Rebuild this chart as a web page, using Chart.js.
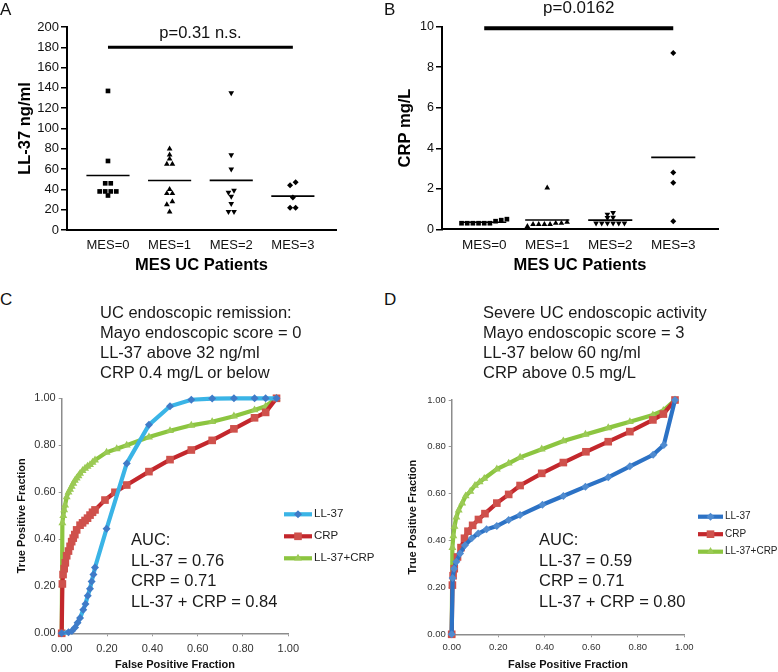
<!DOCTYPE html>
<html>
<head>
<meta charset="utf-8">
<script src="https://cdn.jsdelivr.net/npm/chart.js@4.4.0/dist/chart.umd.min.js"></script>
<style>
  body { margin: 0; background: #fff; width: 778px; height: 672px; position: relative; overflow: hidden;
         font-family: "Liberation Sans", Arial, sans-serif; }
  canvas { position: absolute; }
  .txt { position: absolute; color: #1a1a1a; font-size: 16.5px; line-height: 20px; white-space: nowrap; }
  .auc { line-height: 20.5px; }
  .letter { position: absolute; font-size: 17px; line-height: 17px; color: #111; }
</style>
</head>
<body>
<canvas id="chartA" width="390" height="280" style="left:0;top:0"></canvas>
<canvas id="chartB" width="388" height="280" style="left:390px;top:0"></canvas>
<canvas id="chartC" width="390" height="292" style="left:0;top:380px"></canvas>
<canvas id="chartD" width="388" height="292" style="left:390px;top:380px"></canvas>

<div class="letter" style="left:0;top:1px">A</div>
<div class="letter" style="left:384px;top:1px">B</div>
<div class="letter" style="left:0;top:291px">C</div>
<div class="letter" style="left:384px;top:291px">D</div>

<div class="txt" id="headC" style="left:100px;top:302px"></div>
<div class="txt" id="headD" style="left:483px;top:302px"></div>
<div class="txt auc" id="aucC" style="left:131px;top:529px"></div>
<div class="txt auc" id="aucD" style="left:539px;top:529px"></div>

<script>
'use strict';

/* DATA: top panels (dot plots) */
const catLabels = ['MES=0', 'MES=1', 'MES=2', 'MES=3'];

const ll37Mes0 = [137, 68, 46, 46, 38, 38, 38, 38, 34];
const ll37Mes1 = [80, 74, 70, 65, 65, 40, 36, 36, 28, 25, 18];
const ll37Mes2 = [135, 74, 60, 39, 37, 33, 26, 18, 18];
const ll37Mes3 = [47, 44, 32, 22, 22];

const crpMes0 = [0.4, 0.3, 0.3, 0.45, 0.5, 0.3, 0.3, 0.3, 0.3];
const crpMes1 = [0.25, 0.25, 0.3, 0.35, 0.15, 0.3, 0.25, 0.25, 2.05];
const crpMes2 = [0.59, 0.3, 0.3, 0.82, 0.74, 0.3, 0.3, 0.3, 0.3, 0.57];
const crpMes3 = [8.7, 2.8, 2.3, 0.4];

const sigA = { from: 0, to: 3, y: 180, label: 'p=0.31 n.s.' };
const sigB = { from: 0, to: 3, y: 9.92, label: 'p=0.0162' };

/* DATA: bottom panels (ROC curves), [FPF, TPF] */
const cLL37 = [[0,0],[0.03,0.005],[0.045,0.01],[0.059,0.025],[0.07,0.045],[0.081,0.065],[0.095,0.1],[0.105,0.125],[0.115,0.16],[0.125,0.19],[0.132,0.22],[0.14,0.25],[0.147,0.28],[0.198,0.445],[0.287,0.723],[0.385,0.887],[0.478,0.966],[0.572,0.994],[0.664,0.999],[0.76,1],[0.851,1],[0.9,1],[0.948,1]];
const cCRP = [[0,0],[0.003,0.21],[0.006,0.25],[0.011,0.275],[0.016,0.3],[0.022,0.33],[0.03,0.35],[0.037,0.37],[0.044,0.39],[0.051,0.405],[0.058,0.42],[0.066,0.44],[0.081,0.46],[0.092,0.47],[0.103,0.48],[0.114,0.49],[0.125,0.503],[0.136,0.515],[0.147,0.525],[0.191,0.567],[0.235,0.6],[0.287,0.631],[0.385,0.688],[0.478,0.739],[0.572,0.78],[0.664,0.821],[0.76,0.87],[0.851,0.917],[0.9,0.94],[0.948,1]];
const cBoth = [[0,0],[0.003,0.47],[0.007,0.5],[0.011,0.525],[0.015,0.545],[0.022,0.58],[0.03,0.6],[0.037,0.612],[0.044,0.625],[0.051,0.638],[0.058,0.65],[0.066,0.66],[0.074,0.67],[0.081,0.68],[0.092,0.692],[0.103,0.702],[0.114,0.71],[0.125,0.717],[0.136,0.727],[0.147,0.737],[0.198,0.77],[0.243,0.785],[0.287,0.8],[0.385,0.835],[0.478,0.862],[0.572,0.885],[0.664,0.9],[0.76,0.924],[0.851,0.95],[0.9,0.966],[0.948,1]];

const dLL37 = [[0,0],[0.004,0.24],[0.01,0.28],[0.02,0.31],[0.036,0.345],[0.057,0.38],[0.086,0.41],[0.114,0.43],[0.15,0.448],[0.194,0.462],[0.245,0.488],[0.294,0.509],[0.39,0.553],[0.48,0.59],[0.575,0.63],[0.673,0.67],[0.766,0.717],[0.866,0.766],[0.912,0.808],[0.96,1]];
const dCRP = [[0,0],[0.003,0.21],[0.006,0.25],[0.011,0.28],[0.025,0.33],[0.04,0.37],[0.055,0.41],[0.07,0.44],[0.09,0.465],[0.115,0.49],[0.143,0.515],[0.194,0.56],[0.245,0.597],[0.294,0.635],[0.387,0.687],[0.48,0.733],[0.577,0.779],[0.673,0.822],[0.766,0.865],[0.865,0.915],[0.91,0.94],[0.96,1]];
const dBoth = [[0,0],[0.003,0.37],[0.007,0.42],[0.012,0.46],[0.02,0.5],[0.03,0.53],[0.045,0.56],[0.06,0.59],[0.08,0.61],[0.1,0.635],[0.12,0.65],[0.14,0.665],[0.194,0.705],[0.245,0.73],[0.294,0.755],[0.387,0.79],[0.48,0.825],[0.575,0.853],[0.673,0.881],[0.766,0.907],[0.865,0.936],[0.91,0.955],[0.96,1]];

const rocNames = ['LL-37', 'CRP', 'LL-37+CRP'];
const aucC = [0.76, 0.71, 0.84];
const aucD = [0.59, 0.71, 0.80];

const headCLines = ['UC endoscopic remission:', 'Mayo endoscopic score = 0', 'LL-37 above 32 ng/ml', 'CRP 0.4 mg/L or below'];
const headDLines = ['Severe UC endoscopic activity', 'Mayo endoscopic score = 3', 'LL-37 below 60 ng/ml', 'CRP above 0.5 mg/L'];

/* HELPERS */
Chart.defaults.font.family = '"Liberation Sans", Arial, sans-serif';
Chart.defaults.animation = false;

function mean(arr) { return arr.reduce((s, v) => s + v, 0) / arr.length; }

// spread points with near-equal values sideways, like a prism dot plot
function swarm(values, cat, tol, step) {
  const order = values.map((v, i) => i).sort((a, b) => values[a] - values[b]);
  const groups = [];
  order.forEach(i => {
    const g = groups[groups.length - 1];
    if (g && values[i] - values[g[g.length - 1]] <= tol) g.push(i);
    else groups.push([i]);
  });
  const pts = [];
  groups.forEach(g => g.forEach((i, k) => {
    pts.push({ x: cat + (k - (g.length - 1) / 2) * step, y: values[i] });
  }));
  return pts;
}

const sigBarPlugin = {
  id: 'sigBar',
  afterDatasetsDraw(chart, args, opts) {
    if (!opts || !opts.label) return;
    const { ctx, scales: { x, y } } = chart;
    const x1 = x.getPixelForValue(opts.from);
    const x2 = x.getPixelForValue(opts.to);
    const yy = y.getPixelForValue(opts.y);
    ctx.save();
    ctx.strokeStyle = '#000';
    ctx.lineWidth = opts.width;
    ctx.beginPath();
    ctx.moveTo(x1, yy);
    ctx.lineTo(x2, yy);
    ctx.stroke();
    ctx.fillStyle = '#111';
    ctx.font = opts.font;
    ctx.textAlign = 'center';
    ctx.textBaseline = 'middle';
    ctx.fillText(opts.label, (x1 + x2) / 2, yy - opts.gap);
    ctx.restore();
  }
};

const rocLegendPlugin = {
  id: 'rocLegend',
  afterDraw(chart, args, opts) {
    const ctx = chart.ctx;
    chart.data.datasets.forEach((ds, i) => {
      const yy = opts.y + i * opts.gap;
      ctx.save();
      ctx.strokeStyle = ds.borderColor;
      ctx.lineWidth = ds.borderWidth;
      ctx.beginPath();
      ctx.moveTo(opts.x, yy);
      ctx.lineTo(opts.x + opts.len, yy);
      ctx.stroke();
      ctx.fillStyle = ds.pointBackgroundColor;
      ctx.strokeStyle = ds.pointBackgroundColor;
      Chart.helpers.drawPoint(ctx, { pointStyle: ds.pointStyle, radius: ds.pointRadius, borderWidth: 0, rotation: 0 },
        opts.x + opts.len / 2, yy);
      ctx.fillStyle = '#222';
      ctx.font = opts.font;
      ctx.textAlign = 'left';
      ctx.textBaseline = 'middle';
      ctx.fillText(ds.label, opts.x + opts.len + 2, yy);
      ctx.restore();
    });
  }
};

/* DOT PLOTS */
function dotChart(id, groups, cfg) {
  const styles = ['rect', 'triangle', 'triangle', 'rectRot'];
  const rotations = [0, 0, 180, 0];
  const radii = [3.3, 3.3, 3.3, 3];
  const datasets = [];
  groups.forEach((vals, k) => {
    datasets.push({
      data: swarm(vals, k, cfg.tol, 0.09),
      pointStyle: styles[k],
      pointRotation: rotations[k],
      pointRadius: radii[k],
      pointBackgroundColor: '#000',
      pointBorderWidth: 0,
      clip: false
    });
    const m = mean(vals);
    datasets.push({
      data: [{ x: k - 0.35, y: m }, { x: k + 0.35, y: m }],
      showLine: true,
      pointRadius: 0,
      borderColor: '#000',
      borderWidth: 1.6
    });
  });

  return new Chart(document.getElementById(id), {
    type: 'scatter',
    data: { datasets },
    plugins: [sigBarPlugin],
    options: {
      responsive: false,
      layout: { padding: { top: cfg.top, right: cfg.right, left: 0, bottom: 0 } },
      plugins: {
        legend: { display: false },
        tooltip: { enabled: false },
        sigBar: cfg.sig
      },
      scales: {
        x: {
          type: 'linear',
          min: cfg.xMin,
          max: cfg.xMax,
          afterBuildTicks: s => { s.ticks = catLabels.map((c, i) => ({ value: i })); },
          ticks: { callback: v => catLabels[Math.round(v)], color: '#111', font: { size: cfg.xTickSize },
                   padding: cfg.xTickPad, autoSkip: false, maxRotation: 0 },
          grid: { drawOnChartArea: false, drawTicks: false, color: '#000' },
          border: { color: '#000', width: 2 },
          title: { display: true, text: 'MES UC Patients', color: '#000',
                   font: { size: 16.5, weight: 'bold' }, padding: { top: 0, bottom: 5 } },
          afterFit: s => { s.height = cfg.xHeight; }
        },
        y: {
          min: 0,
          max: cfg.yMax,
          ticks: { stepSize: cfg.yStep, color: '#111', font: { size: cfg.yTickSize }, padding: 2 },
          grid: { drawOnChartArea: false, tickLength: 6, color: '#000', lineWidth: 1.5 },
          border: { color: '#000', width: 2 },
          title: { display: true, text: cfg.yTitle, color: '#000',
                   font: { size: 16.5, weight: 'bold' }, padding: { top: cfg.yTitlePad, bottom: 0 } },
          afterFit: s => { s.width = cfg.yWidth; }
        }
      }
    }
  });
}

dotChart('chartA', [ll37Mes0, ll37Mes1, ll37Mes2, ll37Mes3], {
  tol: 3.5, top: 27, right: 54, xMin: -0.665, xMax: 3.7, xHeight: 50, xTickSize: 13, xTickPad: 8,
  yMax: 200, yStep: 20, yTickSize: 13, yTitle: 'LL-37 ng/ml', yTitlePad: 15.5, yWidth: 67,
  sig: Object.assign({ width: 3, gap: 14, font: '16.5px "Liberation Sans", Arial, sans-serif' }, sigA)
});

dotChart('chartB', [crpMes0, crpMes1, crpMes2, crpMes3], {
  tol: 0.12, top: 26.7, right: 60, xMin: -0.67, xMax: 3.71, xHeight: 50.7, xTickSize: 13.5, xTickPad: 8,
  yMax: 10, yStep: 2, yTickSize: 12.5, yTitle: 'CRP mg/L', yTitlePad: 5.5, yWidth: 52,
  sig: Object.assign({ width: 4, gap: 20, font: '17px "Liberation Sans", Arial, sans-serif' }, sigB)
});

/* ROC CHARTS */
function rocChart(id, series, cfg) {
  const markerStyles = ['rectRot', 'rect', 'triangle'];
  const markerRadii = [4, 5.4, 4.6];
  const lineColors = [cfg.blueLine, '#c3272c', '#8cc540'];
  const pointColors = [cfg.bluePoint, '#cf514c', '#9bca55'];
  const datasets = series.map((s, i) => ({
    label: rocNames[i],
    data: s.map(p => ({ x: p[0], y: p[1] })),
    showLine: true,
    borderColor: lineColors[i],
    borderWidth: 4.2,
    pointStyle: markerStyles[i],
    pointRadius: markerRadii[i],
    pointBackgroundColor: pointColors[i],
    pointBorderWidth: 0,
    tension: 0,
    clip: false
  }));

  const axisCommon = {
    min: 0,
    max: 1,
    ticks: { stepSize: 0.2, callback: v => v.toFixed(2), color: '#333', font: { size: cfg.tickSize },
             maxRotation: 0, autoSkip: false },
    grid: { drawOnChartArea: false, tickLength: 3, color: '#999' },
    border: { color: '#8c8c8c', width: 1.5 }
  };

  return new Chart(document.getElementById(id), {
    type: 'scatter',
    data: { datasets },
    plugins: [rocLegendPlugin],
    options: {
      responsive: false,
      layout: { padding: { top: cfg.top, right: cfg.right, left: 0, bottom: 0 } },
      plugins: {
        legend: { display: false },
        tooltip: { enabled: false },
        rocLegend: cfg.legend
      },
      scales: {
        x: Object.assign({}, axisCommon, {
          type: 'linear',
          ticks: Object.assign({}, axisCommon.ticks, { padding: cfg.xTickPad }),
          title: { display: true, text: 'False Positive Fraction', color: '#111',
                   font: { size: 11, weight: 'bold' }, padding: { top: 0, bottom: 0 } },
          afterFit: s => { s.height = cfg.xHeight; }
        }),
        y: Object.assign({}, axisCommon, {
          ticks: Object.assign({}, axisCommon.ticks, { padding: 3 }),
          title: { display: true, text: 'True Positive Fraction', color: '#111',
                   font: { size: 11, weight: 'bold' }, padding: { top: cfg.yTitlePad, bottom: 0 } },
          afterFit: s => { s.width = 61.7; }
        })
      }
    }
  });
}

rocChart('chartC', [cLL37, cCRP, cBoth], {
  top: 18.3, right: 101.7, xHeight: 38.7, tickSize: 11, xTickPad: 6, yTitlePad: 15,
  blueLine: '#3ab4e6', bluePoint: '#3f7bc8',
  legend: { x: 284, y: 134.3, gap: 22, len: 28, font: '11.5px "Liberation Sans", Arial, sans-serif' }
});

rocChart('chartD', [dLL37, dCRP, dBoth], {
  top: 20, right: 93.7, xHeight: 37.7, tickSize: 9.5, xTickPad: 4, yTitlePad: 16.7,
  blueLine: '#2c72c5', bluePoint: '#4f8bd0',
  legend: { x: 308, y: 136.7, gap: 17.5, len: 25, font: '10px "Liberation Sans", Arial, sans-serif' }
});

/* TEXT BLOCKS */
function fillLines(id, lines) {
  document.getElementById(id).innerHTML = lines.map(l => `<div>${l}</div>`).join('');
}
fillLines('headC', headCLines);
fillLines('headD', headDLines);

function aucLines(vals) {
  return ['AUC:',
    `LL-37 = ${vals[0].toFixed(2)}`,
    `CRP = ${vals[1].toFixed(2)}`,
    `LL-37 + CRP = ${vals[2].toFixed(2)}`];
}
fillLines('aucC', aucLines(aucC));
fillLines('aucD', aucLines(aucD));
</script>
</body>
</html>
